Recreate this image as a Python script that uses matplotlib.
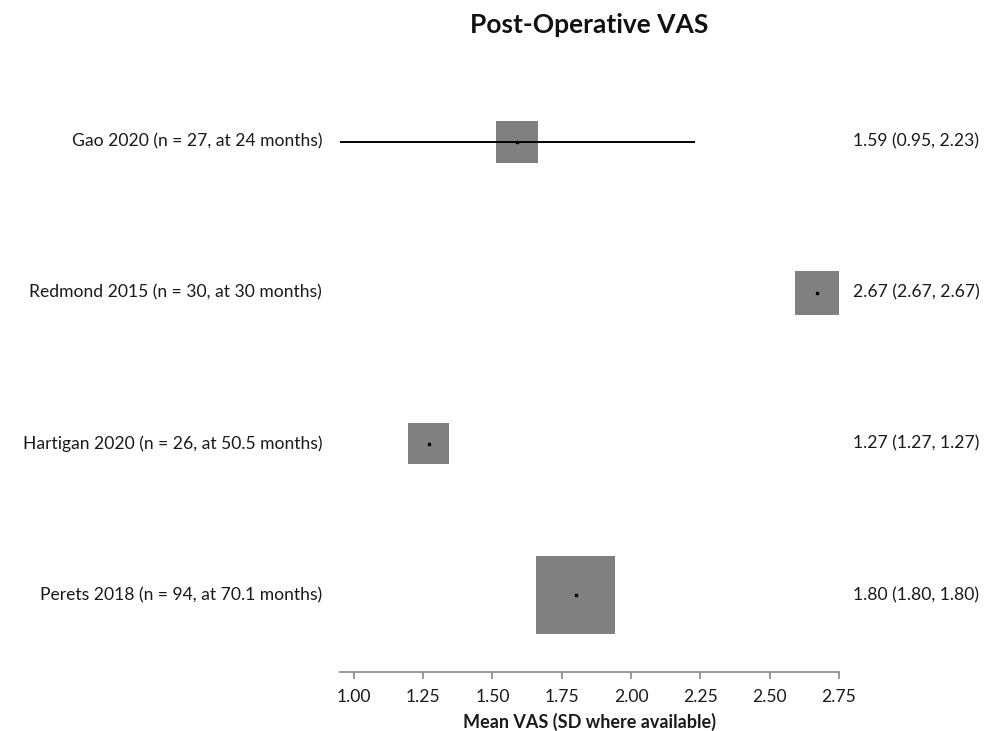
import matplotlib.pyplot as plt

studies = ['Gao 2020 (n = 27, at 24 months)',
           'Redmond 2015 (n = 30, at 30 months)',
           'Hartigan 2020 (n = 26, at 50.5 months)',
           'Perets 2018 (n = 94, at 70.1 months)']
n = [27, 30, 26, 94]
mean = [1.59, 2.67, 1.27, 1.80]
lower = [0.95, 2.67, 1.27, 1.80]
upper = [2.23, 2.67, 1.27, 1.80]
xticks = [1.00, 1.25, 1.50, 1.75, 2.00, 2.25, 2.50, 2.75]

plt.rcParams['font.family'] = ['Lato', 'DejaVu Sans']

fig = plt.figure(figsize=(9.92, 7.31), dpi=100)
ax = fig.add_axes([340 / 992, 59 / 731, 499 / 992, (672 - 66) / 731])

ypos = list(range(len(studies), 0, -1))

# square area scales with sample size
ax.scatter(mean, ypos, s=[33.8 * k for k in n], marker='s', color='#808080',
           edgecolors='none', zorder=2)
ax.hlines(ypos, lower, upper, color='black', lw=1.4, zorder=3)
ax.scatter(mean, ypos, s=3, marker='s', color='black', zorder=4)

for y, name, m, lo, hi in zip(ypos, studies, mean, lower, upper):
    ax.text(-0.036, y, name, transform=ax.get_yaxis_transform(),
            ha='right', va='center', fontsize=12.6, color='#1a1a1a')
    ax.text(1.028, y, f'{m:.2f} ({lo:.2f}, {hi:.2f})', transform=ax.get_yaxis_transform(),
            ha='left', va='center', fontsize=12.6, color='#1a1a1a')

ax.set_xlim(0.95, 2.75)
ax.set_ylim(0.49, len(studies) + 0.5)
ax.set_xticks(xticks)
ax.set_xticklabels([f'{t:.2f}' for t in xticks], fontsize=12.6, color='#1a1a1a')
ax.set_yticks([])
for side in ['left', 'right', 'top']:
    ax.spines[side].set_visible(False)
ax.spines['bottom'].set_color('#888888')
ax.spines['bottom'].set_linewidth(1.2)
ax.tick_params(axis='x', direction='out', length=5, color='#888888', width=1.2, pad=7)
ax.set_xlabel('Mean VAS (SD where available)', fontsize=13, fontweight='bold',
              color='#1a1a1a', labelpad=6)
ax.set_title('Post-Operative VAS', fontsize=19, fontweight='bold', color='#111111',
             pad=0, y=(731 - 25 - 59) / (672 - 66))
ax.title.set_va('center')

fig.savefig('out.png', dpi=100)
